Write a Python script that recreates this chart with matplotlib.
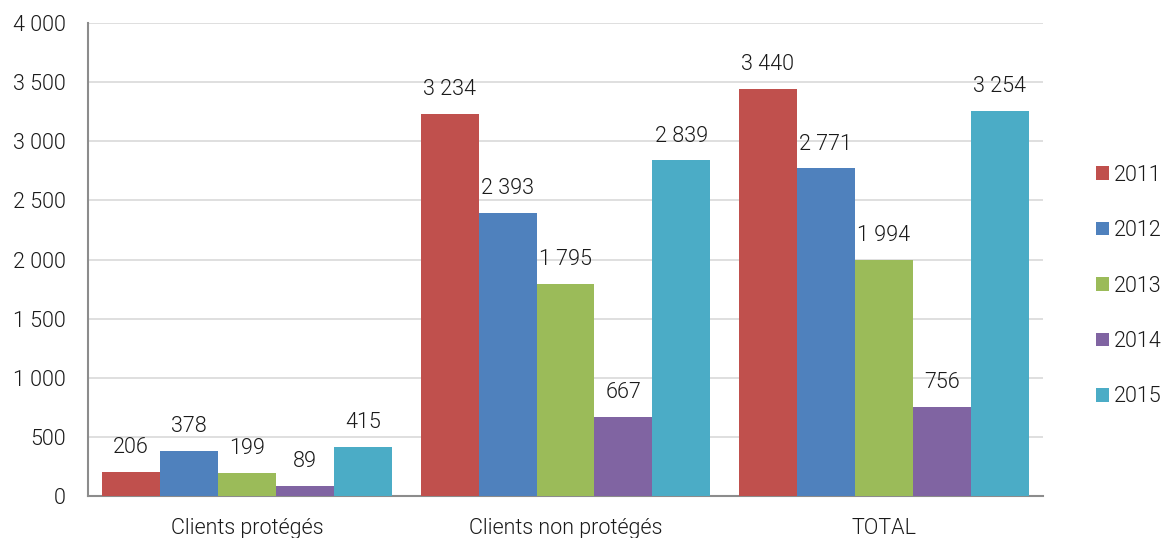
import numpy as np
import matplotlib.pyplot as plt
from matplotlib.ticker import FuncFormatter

plt.rcParams['font.family'] = ['Roboto', 'DejaVu Sans']
plt.rcParams['font.weight'] = 300

categories = ["Clients protégés", "Clients non protégés", "TOTAL"]
years = ["2011", "2012", "2013", "2014", "2015"]
values = {
    "2011": [206, 3234, 3440],
    "2012": [378, 2393, 2771],
    "2013": [199, 1795, 1994],
    "2014": [89, 667, 756],
    "2015": [415, 2839, 3254],
}
colors = ["#C0504D", "#4F81BD", "#9BBB59", "#8064A2", "#4BACC6"]
txt = "#1a1a1a"


def fmt(v):
    return f"{int(v):,}".replace(",", " ")


fig = plt.figure(figsize=(11.64, 5.38), dpi=100)
ax = fig.add_axes([0.0756, 0.078, 0.8204, 0.879])

x = np.arange(len(categories))
w = 0.182
for i, (year, c) in enumerate(zip(years, colors)):
    pos = x + (i - 2) * w
    bars = ax.bar(pos, values[year], w, color=c, label=year, zorder=3)
    for b, v in zip(bars, values[year]):
        ax.annotate(fmt(v), (b.get_x() + b.get_width() / 2, v),
                    xytext=(0, 10), textcoords="offset points",
                    ha="center", va="bottom", fontsize=15.5, color=txt)

ax.set_xlim(-0.5, 2.5)
ax.set_ylim(0, 4000)
ax.set_yticks(np.arange(0, 4001, 500))
ax.yaxis.set_major_formatter(FuncFormatter(lambda v, p: fmt(v)))
ax.set_xticks(x)
ax.set_xticklabels(categories)
ax.tick_params(axis="both", length=0, labelsize=15.5, labelcolor=txt)
ax.tick_params(axis="y", pad=16)
ax.tick_params(axis="x", pad=16)
ax.grid(axis="y", color="#d9d9d9", linewidth=1.2, zorder=0)
for s in ["top", "right"]:
    ax.spines[s].set_visible(False)
for s in ["left", "bottom"]:
    ax.spines[s].set_color("#8c8c8c")
    ax.spines[s].set_linewidth(1.5)

ax.legend(loc="center left", bbox_to_anchor=(1.035, 0.444), frameon=False,
          fontsize=15.5, handlelength=0.6, handleheight=0.6, handletextpad=0.25,
          labelspacing=1.6, labelcolor=txt)

fig.savefig("out.png", dpi=100)
